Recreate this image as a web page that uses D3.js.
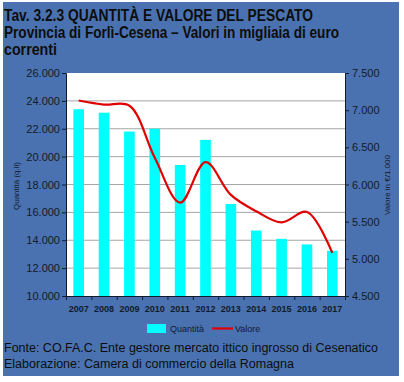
<!DOCTYPE html>
<html><head><meta charset="utf-8">
<script src="https://cdn.jsdelivr.net/npm/d3@7"></script>
<style>body{margin:0;background:#fff}svg{display:block}</style>
</head><body><svg id="c" width="404" height="382"></svg>
<script>
const years = ["2007","2008","2009","2010","2011","2012","2013","2014","2015","2016","2017"];
const quantita = [23400,23150,21800,22000,19400,21200,16600,14700,14100,13700,13250];
const valore = [7130,7075,7060,6360,5755,6300,5860,5640,5490,5630,5080];
const leftTicks = [10000,12000,14000,16000,18000,20000,22000,24000,26000];
const rightTicks = [4500,5000,5500,6000,6500,7000,7500];

const svg = d3.select("#c");
const bg = "#4b72b0";
const ink = "#111a2a";
const fmt = v => d3.format(",")(v).replace(/,/g,".");
svg.append("rect").attr("x",3).attr("y",2).attr("width",396).attr("height",374).attr("fill",bg);

const title = ["Tav. 3.2.3 QUANTITÀ E VALORE DEL PESCATO","Provincia di Forlì-Cesena – Valori in migliaia di euro","correnti"];
const titleW = [309,335,53];
const fontA = "Arial,'Liberation Sans',sans-serif";
svg.selectAll("text.t").data(title).join("text").attr("class","t")
  .attr("x",4).attr("y",(d,i)=>21+i*17).attr("font-family",fontA)
  .attr("font-weight","bold").attr("font-size",16).attr("fill","#0d0d0d")
  .attr("textLength",(d,i)=>titleW[i]).attr("lengthAdjust","spacingAndGlyphs").text(d=>d);

const L=66,R=345,T=73,B=296;
svg.append("rect").attr("x",L).attr("y",T).attr("width",R-L).attr("height",B-T).attr("fill","#fff");
const x = d3.scaleBand().domain(years).range([L,R]).paddingInner(0.58).paddingOuter(0.29);
const yL = d3.scaleLinear().domain([10000,26000]).range([B,T]);
const yR = d3.scaleLinear().domain([4500,7500]).range([B,T]);

svg.append("g").selectAll("line").data(leftTicks.slice(1,-1)).join("line")
  .attr("x1",L).attr("x2",R).attr("y1",d=>yL(d)).attr("y2",d=>yL(d))
  .attr("stroke","#a6a6a6").attr("stroke-width",1);

svg.append("g").selectAll("rect").data(quantita).join("rect")
  .attr("x",(d,i)=>x(years[i])).attr("width",x.bandwidth())
  .attr("y",d=>yL(d)).attr("height",d=>B-yL(d)).attr("fill","#00ffff");

const line = d3.line().x((d,i)=>x(years[i])+x.bandwidth()/2).y(d=>yR(d)).curve(d3.curveCatmullRom.alpha(0.5));
svg.append("path").attr("d",line(valore)).attr("fill","none").attr("stroke","#e00000").attr("stroke-width",2.2);

const ga = svg.append("g").attr("transform",`translate(${L},0)`)
  .call(d3.axisLeft(yL).tickValues(leftTicks).tickFormat(fmt).tickSize(4).tickPadding(2));
const gr = svg.append("g").attr("transform",`translate(${R},0)`)
  .call(d3.axisRight(yR).tickValues(rightTicks).tickFormat(fmt).tickSize(4).tickPadding(3));
const xb = d3.scaleLinear().domain([0,years.length]).range([L,R]);
const gx = svg.append("g").attr("transform",`translate(0,${B})`)
  .call(d3.axisBottom(xb).tickValues(d3.range(0,years.length+1)).tickFormat("").tickSize(4).tickSizeOuter(0));
[ga,gr,gx].forEach(g=>{g.selectAll("path,line").attr("stroke",ink);g.selectAll("text").attr("font-family",fontA).attr("font-size",11).attr("fill",ink);});
svg.append("g").selectAll("text").data(years).join("text")
  .attr("x",d=>x(d)+x.bandwidth()/2).attr("y",312).attr("text-anchor","middle")
  .attr("font-family",fontA).attr("font-weight","bold").attr("font-size",9).attr("fill",ink).text(d=>d);

svg.append("text").attr("transform","translate(19,186) rotate(-90)").attr("text-anchor","middle")
  .attr("font-family",fontA).attr("font-size",8).attr("fill",ink).text("Quantità (q.li)");
svg.append("text").attr("transform","translate(390,185) rotate(-90)").attr("text-anchor","middle")
  .attr("font-family",fontA).attr("font-size",8).attr("fill",ink).text("Valore in €/1.000");

const lg = svg.append("g");
lg.append("rect").attr("x",147).attr("y",324).attr("width",19).attr("height",9).attr("fill","#00ffff");
lg.append("text").attr("x",170).attr("y",332).attr("font-family",fontA).attr("font-size",9).attr("fill",ink).text("Quantità");
lg.append("line").attr("x1",212).attr("x2",233).attr("y1",328.5).attr("y2",328.5).attr("stroke","#e00000").attr("stroke-width",2.2);
lg.append("text").attr("x",235).attr("y",332).attr("font-family",fontA).attr("font-size",9).attr("fill",ink).text("Valore");

const foot = ["Fonte: CO.FA.C. Ente gestore mercato ittico ingrosso di Cesenatico","Elaborazione: Camera di commercio della Romagna"];
const footW = [374,290];
svg.selectAll("text.f").data(foot).join("text").attr("class","f")
  .attr("x",4).attr("y",(d,i)=>352+i*16).attr("font-family",fontA)
  .attr("font-size",12.5).attr("fill","#0d0d0d")
  .attr("textLength",(d,i)=>footW[i]).attr("lengthAdjust","spacingAndGlyphs").text(d=>d);
</script></body></html>
